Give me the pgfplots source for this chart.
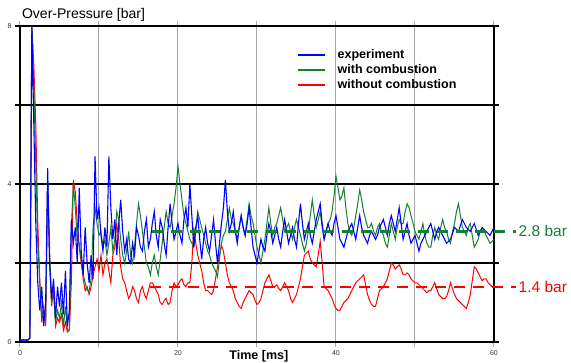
\documentclass[border=0pt]{standalone}
\usepackage{fontspec}
\setmainfont{Liberation Sans}
\usepackage{pgfplots}
\usepackage{pgfplotstable}
\pgfplotsset{compat=1.18}
\definecolor{cblue}{RGB}{0,0,255}
\definecolor{cgreen}{RGB}{20,128,50}
\definecolor{cred}{RGB}{255,0,0}
\pgfplotstableread{
t b g r
0.0 0.05 0.05 0.05
0.5 0.05 0.05 0.05
1.0 0.05 0.05 0.05
1.25 0.1 0.1 0.1
1.5 8.0 8.0 8.0
1.75 5.5 6.5 7.0
2.0 3.0 4.5 5.5
2.25 1.5 2.5 3.0
2.5 0.8 1.5 1.6
2.75 1.4 0.6 0.5
3.0 0.4 0.8 0.9
3.25 1.0 0.5 0.4
3.5 4.4 4.1 4.1
3.75 2.0 2.3 2.0
4.0 1.1 1.0 0.9
4.25 1.6 1.2 1.4
4.5 0.6 0.5 0.4
4.75 1.4 0.8 0.6
5.0 0.9 0.6 0.5
5.25 1.5 1.0 0.7
5.5 0.7 0.4 0.3
5.75 1.8 0.9 0.5
6.0 0.4 0.3 0.25
6.25 0.8 0.3 0.3
6.5 3.1 2.9 1.5
6.75 2.5 4.0 4.1
7.0 2.9 3.4 3.8
7.25 2.0 2.6 3.0
7.5 3.9 2.5 2.4
7.75 2.3 2.1 2.0
8.0 1.7 1.7 1.6
8.25 2.9 1.5 1.3
8.5 2.0 1.3 1.4
8.75 1.5 1.3 1.2
9.0 2.2 1.6 1.4
9.25 1.6 2.9 1.7
9.5 4.7 3.4 1.9
9.75 3.1 3.0 2.1
10.0 3.4 2.7 1.8
10.25 2.7 2.8 2.2
10.5 2.3 2.4 1.7
10.75 2.9 2.6 2.0
11.0 2.4 2.2 2.1
11.25 4.7 2.5 1.8
11.5 3.4 2.9 1.5
11.75 2.6 2.3 2.2
12.0 3.1 2.6 2.4
12.25 2.2 3.3 3.0
12.5 3.0 3.1 2.6
12.75 3.6 2.6 1.9
13.0 2.8 2.2 1.6
13.25 2.3 2.0 1.5
13.5 2.6 2.3 1.3
13.75 2.1 2.8 1.1
14.0 2.0 2.2 1.2
14.25 2.5 2.0 1.4
14.5 2.2 2.4 1.3
14.75 2.9 3.0 1.1
15.0 2.7 3.5 1.0
15.25 2.4 3.2 1.3
15.5 2.3 2.8 1.4
15.75 2.8 2.4 1.2
16.0 3.1 2.0 1.1
16.25 2.4 1.9 1.3
16.5 2.6 1.7 1.5
16.75 3.0 2.0 1.5
17.0 3.3 2.2 1.4
17.25 2.7 1.9 1.3
17.5 2.4 1.7 1.2
17.75 3.1 2.1 1.0
18.0 2.9 2.5 0.95
18.25 2.5 2.9 1.05
18.5 2.2 3.3 1.1
18.75 2.9 3.0 0.95
19.0 3.5 2.9 1.0
19.25 3.0 3.2 1.3
19.5 2.6 3.5 1.5
19.75 2.8 3.9 1.4
20.0 3.0 4.45 1.45
20.25 2.7 4.0 1.55
20.5 2.5 3.6 1.6
20.75 3.1 3.2 1.45
21.0 3.4 3.0 1.4
21.25 2.9 2.8 1.5
21.5 4.0 2.6 1.5
21.75 3.2 2.5 2.0
22.0 2.4 2.4 2.9
22.25 2.9 2.8 2.5
22.5 3.2 3.3 2.2
22.75 2.6 3.1 2.0
23.0 2.1 2.9 1.8
23.25 2.6 2.7 1.5
23.5 2.9 2.5 1.3
23.75 2.5 2.3 1.3
24.0 2.3 2.2 1.25
24.25 2.7 2.0 1.2
24.5 3.1 1.9 1.3
24.75 2.5 1.8 1.6
25.0 2.0 1.65 1.9
25.25 2.5 2.1 2.2
25.5 3.0 2.5 2.45
25.75 3.4 2.7 2.3
26.0 4.1 2.8 2.0
26.25 3.3 3.1 1.7
26.5 2.8 3.4 1.5
26.75 3.0 3.1 1.4
27.0 3.3 3.0 1.3
27.25 2.8 2.8 1.1
27.5 2.5 2.6 1.0
27.75 2.9 2.9 0.9
28.0 3.2 3.2 0.85
28.25 2.9 2.9 1.0
28.5 2.7 2.7 1.1
28.75 3.0 3.1 1.2
29.0 3.4 3.5 1.3
29.25 2.9 3.2 1.25
29.5 2.4 3.0 1.2
29.75 2.2 2.7 1.05
30.0 2.0 2.4 0.95
30.25 2.3 2.2 1.0
30.5 2.6 2.0 1.1
30.75 2.4 2.3 1.3
31.0 2.3 2.6 1.5
31.25 2.7 3.0 1.6
31.5 3.0 3.4 1.7
31.75 2.8 3.0 1.55
32.0 2.5 2.7 1.4
32.25 2.7 2.9 1.4
32.5 2.9 3.0 1.45
32.75 2.6 3.2 1.35
33.0 2.4 3.4 1.3
33.25 2.8 3.1 1.4
33.5 3.1 2.8 1.5
33.75 2.8 2.9 1.4
34.0 2.5 3.0 1.3
34.25 2.7 2.8 1.1
34.5 2.9 2.6 1.0
34.75 2.6 2.9 1.1
35.0 2.4 3.1 1.2
35.25 3.0 2.9 1.4
35.5 3.5 2.7 1.6
35.75 3.0 2.5 1.9
36.0 2.6 2.3 2.2
36.25 2.8 2.5 2.25
36.5 3.0 2.8 2.3
36.75 2.7 3.2 2.1
37.0 2.5 3.6 2.0
37.25 2.8 3.2 1.95
37.5 3.1 2.9 1.9
37.75 3.3 3.1 2.2
38.0 3.5 3.3 2.55
38.25 3.0 2.9 2.0
38.5 2.6 2.6 1.4
38.75 2.8 2.8 1.35
39.0 3.0 3.0 1.3
39.25 2.8 3.1 1.2
39.5 2.7 3.3 1.1
39.75 3.0 3.7 0.95
40.0 3.2 4.2 0.85
40.25 2.9 3.9 0.8
40.5 2.6 3.6 0.8
40.75 2.5 3.7 0.9
41.0 2.4 3.9 1.0
41.25 2.6 3.4 1.05
41.5 2.8 3.0 1.1
41.75 2.9 2.8 1.2
42.0 3.0 2.7 1.3
42.25 2.8 2.9 1.4
42.5 2.6 3.2 1.5
42.75 2.9 3.5 1.55
43.0 3.2 3.85 1.6
43.25 2.9 3.6 1.65
43.5 2.7 3.3 1.7
43.75 2.6 3.1 1.45
44.0 2.5 2.9 1.2
44.25 2.7 2.9 1.05
44.5 2.8 3.0 0.95
44.75 2.7 2.8 0.9
45.0 2.6 2.7 0.9
45.25 2.7 2.9 1.1
45.5 2.9 3.0 1.3
45.75 3.0 2.8 1.35
46.0 3.1 2.7 1.4
46.25 2.9 2.5 1.5
46.5 2.7 2.4 1.6
46.75 3.0 2.7 1.8
47.0 3.2 3.0 2.0
47.25 3.0 2.8 1.95
47.5 2.8 2.6 1.85
47.75 3.1 2.9 1.9
48.0 3.4 3.1 1.95
48.25 3.0 3.0 1.85
48.5 2.6 3.0 1.7
48.75 2.8 3.3 1.7
49.0 3.0 3.5 1.75
49.25 2.7 3.4 1.7
49.5 2.5 3.2 1.6
49.75 2.6 3.0 1.55
50.0 2.7 2.8 1.5
50.25 2.5 2.7 1.5
50.5 2.3 2.6 1.45
50.75 2.5 2.8 1.4
51.0 2.6 3.0 1.35
51.25 2.7 2.7 1.3
51.5 2.8 2.5 1.25
51.75 2.9 2.4 1.3
52.0 3.0 2.4 1.3
52.25 2.8 2.7 1.4
52.5 2.6 2.9 1.5
52.75 2.8 2.7 1.35
53.0 2.9 2.6 1.2
53.25 2.8 2.9 1.15
53.5 2.7 3.1 1.1
53.75 2.6 2.9 1.1
54.0 2.5 2.8 1.15
54.25 2.55 2.6 1.3
54.5 2.6 2.5 1.5
54.75 2.75 2.8 1.35
55.0 2.9 3.0 1.2
55.25 2.85 3.3 1.1
55.5 2.8 3.5 1.05
55.75 2.95 3.2 1.0
56.0 3.1 2.9 0.95
56.25 3.0 2.8 0.9
56.5 2.9 2.7 0.85
56.75 2.85 2.9 1.0
57.0 2.8 3.0 1.2
57.25 2.9 2.7 1.55
57.5 3.0 2.4 1.9
57.75 2.85 2.5 1.85
58.0 2.7 2.6 1.75
58.25 2.8 2.8 1.65
58.5 2.9 2.9 1.55
58.75 2.85 2.8 1.6
59.0 2.8 2.7 1.6
59.25 2.75 2.6 1.5
59.5 2.7 2.5 1.45
59.75 2.8 2.55 1.4
60.0 2.9 2.6 1.4
}\data
\begin{document}
\begin{tikzpicture}
\begin{axis}[
  name=ax,
  scale only axis, width=474pt, height=316pt,
  xmin=0, xmax=60, ymin=0, ymax=8,
  clip=false,
  axis line style={black, line width=1.5pt},
  xtick={0,10,20,30,40,50,60},
  xticklabels={0,,20,,40,,60},
  ytick={0,2,4,6,8},
  yticklabels={0,,4,,8},
  xmajorgrids, ymajorgrids,
  x grid style={gray!70, line width=1pt},
  y grid style={black, line width=1.2pt},
  tick align=outside,
  major tick length=5pt,
  xtick style={gray!70, line width=1pt},
  ytick style={black, line width=1.2pt},
  tick label style={font=\fontsize{7}{7}\selectfont, text=black!80},
  /pgf/number format/assume math mode=true,
  legend style={at={(rel axis cs:0.577,0.939)}, anchor=north west, draw=none, fill=none,
    font=\bfseries\fontsize{12.5}{13}\selectfont, row sep=0.6pt,
    /tikz/every odd column/.append style={column sep=10pt}},
  legend cell align=left,
  legend image code/.code={\draw[#1] (0pt,0pt) -- (27pt,0pt);},
]
\addlegendimage{cblue, line width=2pt}
\addlegendentry{experiment}
\addlegendimage{cgreen, line width=2pt}
\addlegendentry{with combustion}
\addlegendimage{cred, line width=2pt}
\addlegendentry{without combustion}
\addplot[cred, line width=1pt, forget plot] table[x=t, y=r] {\data};
\addplot[cgreen, line width=1pt, forget plot] table[x=t, y=g] {\data};
\addplot[cblue, line width=1.1pt, forget plot] table[x=t, y=b] {\data};
\addplot[cgreen, line width=2.2pt, dash pattern=on 11pt off 8pt, forget plot] coordinates {(16.7,2.8) (62.8,2.8)};
\addplot[cred, line width=2.2pt, dash pattern=on 11pt off 8pt, forget plot] coordinates {(16.5,1.4) (62.8,1.4)};
\node[cgreen, anchor=west, font=\fontsize{15.5}{16}\selectfont, inner sep=0pt] at (axis cs:63.1,2.8) {2.8 bar};
\node[cred, anchor=west, font=\fontsize{15.5}{16}\selectfont, inner sep=0pt] at (axis cs:63.1,1.4) {1.4 bar};
\node[anchor=base west, font=\fontsize{14}{15}\selectfont, inner sep=0pt] at (rel axis cs:0.004,1) [yshift=8pt] {Over-Pressure [bar]};
\node[anchor=base, font=\bfseries\fontsize{12.5}{13}\selectfont, inner sep=0pt] at (rel axis cs:0.504,0) [yshift=-17pt] {Time [ms]};
\end{axis}
\pgfresetboundingbox
\path[use as bounding box] ([shift={(-20pt,-20pt)}]ax.south west) rectangle ++(571pt,362pt);
\end{tikzpicture}
\end{document}
